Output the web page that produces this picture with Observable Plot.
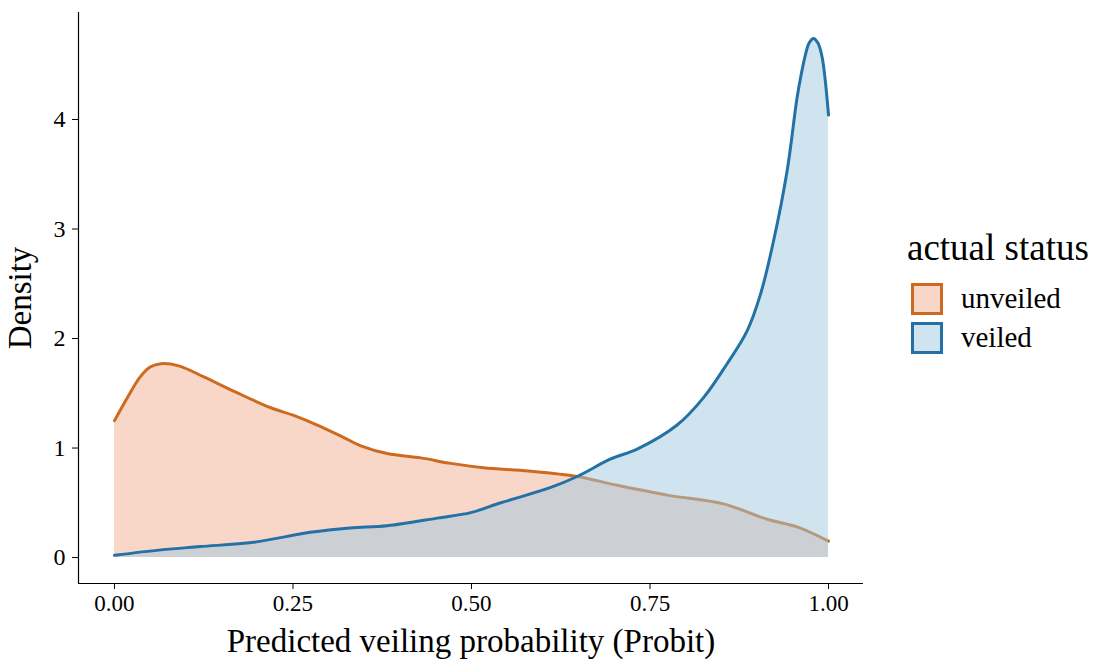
<!DOCTYPE html>
<html>
<head>
<meta charset="utf-8">
<script src="https://cdn.jsdelivr.net/npm/d3@7"></script>
<script src="https://cdn.jsdelivr.net/npm/@observablehq/plot@0.6"></script>
<style>
  html, body { margin: 0; padding: 0; background: #fff; }
  #wrap { position: relative; width: 1107px; height: 659px; font-family: "Liberation Serif", serif; }
  #legend { position: absolute; left: 907px; top: 228px; color: #000; }
  #legend .title { font-size: 37px; line-height: 40px; margin-bottom: 11px; white-space: nowrap; }
  #legend .item { display: flex; align-items: center; height: 39px; }
  #legend .sw { width: 26px; height: 26px; border: 3px solid; margin-left: 4px; margin-right: 18px; }
  #legend .lab { font-size: 29px; }
</style>
</head>
<body>
<div id="wrap"><div id="chart"></div><div id="legend"></div></div>
<script>
// ---- data ----
const seriesNames = ["unveiled", "veiled"];
const unveiledX = [0, 0.018, 0.036, 0.05, 0.065, 0.09, 0.125, 0.17, 0.218, 0.25, 0.284, 0.32, 0.345, 0.382, 0.429, 0.471, 0.517, 0.58, 0.648, 0.704, 0.774, 0.853, 0.914, 0.956, 1.0];
const unveiledY = [1.25, 1.46, 1.65, 1.74, 1.77, 1.75, 1.65, 1.51, 1.37, 1.30, 1.21, 1.10, 1.02, 0.95, 0.91, 0.86, 0.82, 0.79, 0.74, 0.66, 0.57, 0.49, 0.35, 0.28, 0.15];
const veiledX = [0, 0.065, 0.12, 0.195, 0.274, 0.33, 0.382, 0.452, 0.499, 0.541, 0.611, 0.648, 0.695, 0.732, 0.788, 0.825, 0.858, 0.886, 0.905, 0.923, 0.942, 0.956, 0.962, 0.968, 0.973, 0.979, 0.985, 0.991, 1.0];
const veiledY = [0.02, 0.07, 0.10, 0.14, 0.23, 0.27, 0.29, 0.36, 0.41, 0.50, 0.64, 0.74, 0.90, 0.99, 1.21, 1.46, 1.77, 2.07, 2.41, 2.89, 3.53, 4.20, 4.42, 4.60, 4.70, 4.74, 4.70, 4.57, 4.04];
const xTicks = [0, 0.25, 0.5, 0.75, 1];
const yTicks = [0, 1, 2, 3, 4];
const lineColors = ["#CC6B20", "#2471A6"];
const fillColors = ["#F3AF91", "#9FC9DF"];

const unveiled = unveiledX.map((x, i) => ({x, y: unveiledY[i], s: "unveiled"}));
const veiled = veiledX.map((x, i) => ({x, y: veiledY[i], s: "veiled"}));

const xDom = [-0.0504, 1.049];
const yDom = [-0.237, 4.977];

const chart = Plot.plot({
  width: 1107,
  height: 659,
  marginTop: 12,
  marginBottom: 76,
  marginLeft: 78,
  marginRight: 244,
  style: {fontFamily: "Liberation Serif, serif", color: "#000", background: "#fff"},
  x: {domain: xDom},
  y: {domain: yDom},
  marks: [
    Plot.areaY(unveiled, {x: "x", y: "y", fill: fillColors[0], fillOpacity: 0.5, curve: "catmull-rom"}),
    Plot.lineY(unveiled, {x: "x", y: "y", stroke: lineColors[0], strokeWidth: 3, curve: "catmull-rom"}),
    Plot.areaY(veiled, {x: "x", y: "y", fill: fillColors[1], fillOpacity: 0.5, curve: "catmull-rom"}),
    Plot.lineY(veiled, {x: "x", y: "y", stroke: lineColors[1], strokeWidth: 3, curve: "catmull-rom"}),
    Plot.ruleX([xDom[0]], {stroke: "#000", strokeWidth: 1.2}),
    Plot.ruleY([yDom[0]], {stroke: "#000", strokeWidth: 1.2}),
    Plot.axisX({ticks: xTicks, tickFormat: d3.format(".2f"), tickSize: 6, tickPadding: 5, fontSize: 23,
      label: "Predicted veiling probability (Probit)", labelAnchor: "center", labelArrow: "none", labelOffset: 68}),
    Plot.axisY({ticks: yTicks, tickFormat: d3.format("d"), tickSize: 6, tickPadding: 7, fontSize: 24,
      label: "Density", labelAnchor: "center", labelArrow: "none", labelOffset: 71})
  ]
});
document.getElementById("chart").appendChild(chart);
// enlarge axis titles
chart.querySelectorAll("g[aria-label='x-axis label'], g[aria-label='y-axis label']").forEach(el => el.setAttribute("font-size", 33));
chart.querySelectorAll("g[aria-label='x-axis label'] text, g[aria-label='y-axis label'] text").forEach(el => el.setAttribute("font-size", 33));

const legend = document.getElementById("legend");
const t = document.createElement("div"); t.className = "title"; t.textContent = "actual status"; legend.appendChild(t);
seriesNames.forEach((name, i) => {
  const it = document.createElement("div"); it.className = "item";
  const sw = document.createElement("div"); sw.className = "sw";
  sw.style.borderColor = lineColors[i];
  sw.style.background = i === 0 ? "#F9D7C8" : "#CFE4EF";
  const lab = document.createElement("span"); lab.className = "lab"; lab.textContent = name;
  it.appendChild(sw); it.appendChild(lab); legend.appendChild(it);
});
</script>
</body>
</html>
